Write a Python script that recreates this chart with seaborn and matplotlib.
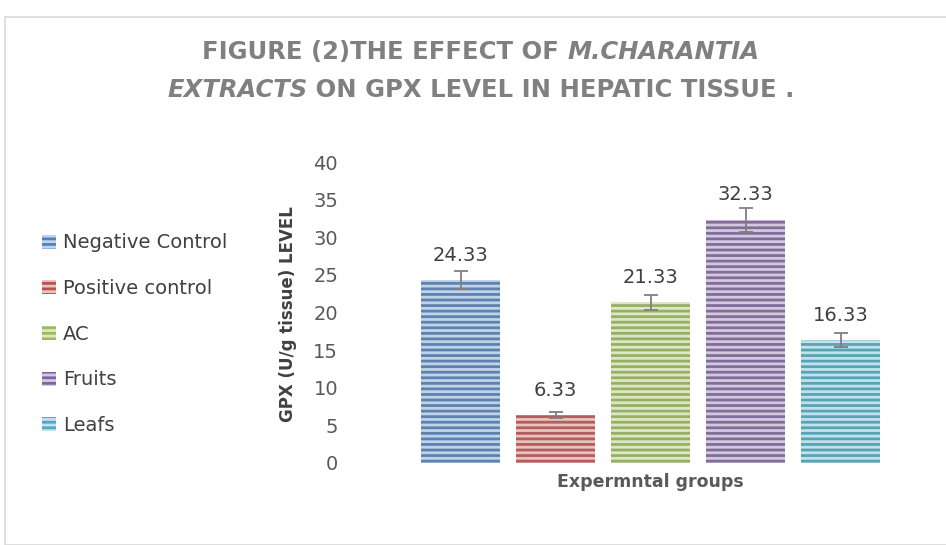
import matplotlib
matplotlib.use("Agg")
import matplotlib.pyplot as plt
import seaborn as sns
from matplotlib.patches import Rectangle
from matplotlib.colors import to_rgb

groups = ["Negative Control", "Positive control", "AC", "Fruits", "Leafs"]
gpx_level = [24.33, 6.33, 21.33, 32.33, 16.33]
gpx_err = [1.2, 0.4, 1.0, 1.6, 0.9]
bar_colors = ["#4F81BD", "#C0504D", "#9BBB59", "#8064A2", "#4BACC6"]
y_ticks = [0, 5, 10, 15, 20, 25, 30, 35, 40]

sns.set_style("white")
plt.rcParams["font.family"] = ["DejaVu Sans"]
plt.rcParams["hatch.linewidth"] = 2.0

W, H = 946, 545
fig = plt.figure(figsize=(W / 100, H / 100), dpi=100)
fig.patches.append(Rectangle((5 / W, 0), 1, (H - 17) / H, transform=fig.transFigure,
                             fill=False, edgecolor="#D9D9D9", linewidth=1.2))

ax = fig.add_axes([413 / W, (H - 463) / H, 475 / W, 301 / H])
sns.barplot(x=groups, y=gpx_level, hue=groups, palette=bar_colors, legend=False,
            width=0.84, ax=ax)

def tint(c, f=0.65):
    r, g, b = to_rgb(c)
    return (r + (1 - r) * f, g + (1 - g) * f, b + (1 - b) * f)

for p, c in zip(ax.patches, bar_colors):
    p.set_hatch("---")
    p.set_edgecolor(tint(c))
    p.set_linewidth(0)

ax.errorbar(range(len(groups)), gpx_level, yerr=gpx_err, fmt="none",
            ecolor="#7F7F7F", elinewidth=1.3, capsize=5, capthick=1.3)

for i, v in enumerate(gpx_level):
    ax.annotate(f"{v:.2f}", (i, v), xytext=(0, 11), textcoords="offset points",
                ha="center", va="bottom", fontsize=14, color="#404040")

ax.set_xlim(-0.5, 4.5)
ax.set_ylim(0, 40)
ax.set_yticks(y_ticks)
ax.set_xticks([])
ax.tick_params(axis="y", length=0, pad=54, labelsize=14, labelcolor="#595959")
for s in ax.spines.values():
    s.set_visible(False)

ax.set_xlabel("Expermntal groups", fontsize=12.5, fontweight="bold", color="#595959", labelpad=7)
fig.text(288 / W, 1 - 314 / H, "GPX (U/g tissue) LEVEL", rotation=90, ha="center", va="center",
         fontsize=12, fontweight="bold", color="#404040")

handles = [Rectangle((0, 0), 1, 1, facecolor=c, edgecolor=tint(c), hatch="---", linewidth=0)
           for c in bar_colors]
fig.legend(handles, groups, loc="upper left", bbox_to_anchor=(24 / W, 1 - 216 / H),
           frameon=False, fontsize=14, handlelength=0.75, handleheight=0.75,
           handletextpad=0.35, labelspacing=1.37, labelcolor="#404040")

# title in pieces so the species name can be italic
renderer = fig.canvas.get_renderer()
def title_line(pieces, yc):
    texts = [fig.text(0, 1 - yc / H, s, fontsize=17.5, fontweight="bold", style=st,
                      color="#808080", va="center") for s, st in pieces]
    widths = [t.get_window_extent(renderer).width for t in texts]
    x = 481 - sum(widths) / 2
    for t, w in zip(texts, widths):
        t.set_x(x / W)
        x += w

title_line([("FIGURE (2)THE EFFECT OF ", "normal"), ("M.CHARANTIA", "italic")], 52)
title_line([("EXTRACTS", "italic"), (" ON GPX LEVEL IN HEPATIC TISSUE .", "normal")], 90)

fig.savefig("out.png", dpi=100)
